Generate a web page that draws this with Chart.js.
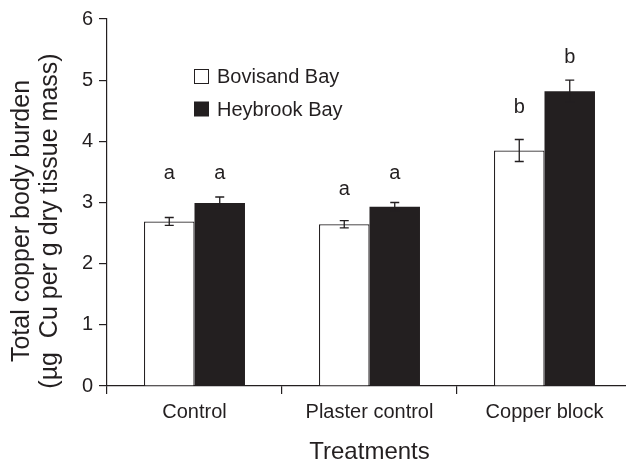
<!DOCTYPE html>
<html>
<head>
<meta charset="utf-8">
<script src="https://cdn.jsdelivr.net/npm/chart.js@4.4.0/dist/chart.umd.min.js"></script>
<style>
  html, body { margin: 0; padding: 0; background: #fff; overflow: hidden; }
  canvas { display: block; }
</style>
</head>
<body>
<canvas id="burden" width="640" height="464"></canvas>
<script>
const treatments = ['Control', 'Plaster control', 'Copper block']
const bovisand = [2.69, 2.645, 3.85]
const heybrook = [2.99, 2.93, 4.82]
const bovisandSE = [0.065, 0.06, 0.18]
const heybrookSE = [0.10, 0.07, 0.18]
const bovisandGroups = ['a', 'a', 'b']
const heybrookGroups = ['a', 'a', 'b']
const yTicks = [0, 1, 2, 3, 4, 5, 6]

// heights (in ug/g) where the significance letters sit
const bovisandLetterAt = [3.38, 3.12, 4.47]
const heybrookLetterAt = [3.38, 3.39, 5.28]

const ink = '#231f20'
const family = '"Liberation Sans", Arial, Helvetica, sans-serif'

const errorBars = {
    id: 'errorBars',
    afterDatasetsDraw(chart) {
        const ctx = chart.ctx
        const y = chart.scales.y
        chart.data.datasets.forEach((ds, i) => {
            chart.getDatasetMeta(i).data.forEach((bar, j) => {
                const v = ds.data[j]
                const e = ds.errors[j]
                const top = y.getPixelForValue(v + e)
                const bot = y.getPixelForValue(v - e)
                ctx.save()
                ctx.strokeStyle = ink
                ctx.lineWidth = 1.3
                ctx.beginPath()
                ctx.moveTo(bar.x, top); ctx.lineTo(bar.x, bot)
                ctx.moveTo(bar.x - 4.5, top); ctx.lineTo(bar.x + 4.5, top)
                ctx.moveTo(bar.x - 4.5, bot); ctx.lineTo(bar.x + 4.5, bot)
                ctx.stroke()

                ctx.fillStyle = ink
                ctx.font = '20px ' + family
                ctx.textAlign = 'center'
                ctx.textBaseline = 'alphabetic'
                ctx.fillText(ds.groups[j], bar.x, y.getPixelForValue(ds.letterAt[j]))
                ctx.restore()
            })
        })
    }
}

// legend box in the upper left of the plot
const insetLegend = {
    id: 'insetLegend',
    afterDraw(chart) {
        const ctx = chart.ctx
        const { left, top } = chart.chartArea
        ctx.save()
        ctx.font = '20px ' + family
        ctx.textBaseline = 'middle'
        ctx.textAlign = 'left'
        chart.data.datasets.forEach((ds, i) => {
            const bx = left + 87.5
            const by = top + 50.5 + i * 32.5
            ctx.fillStyle = ds.backgroundColor
            ctx.fillRect(bx, by, 14, 14)
            ctx.strokeStyle = ink
            ctx.lineWidth = 1
            ctx.strokeRect(bx, by, 14, 14)
            ctx.fillStyle = ink
            ctx.fillText(ds.label, left + 110, by + 8)
        })
        ctx.restore()
    }
}

// two-line rotated y axis title
const yTitle = {
    id: 'yTitle',
    afterDraw(chart) {
        const ctx = chart.ctx
        const lines = ['Total copper body burden', '(\u00b5g  Cu per g dry tissue mass)']
        ctx.save()
        ctx.fillStyle = ink
        ctx.font = '25px ' + family
        ctx.textAlign = 'center'
        ctx.textBaseline = 'middle'
        lines.forEach((t, i) => {
            ctx.save()
            ctx.translate(22 + i * 28, 221)
            ctx.rotate(-Math.PI / 2)
            ctx.fillText(t, 0, 0)
            ctx.restore()
        })
        ctx.restore()
    }
}

new Chart(document.getElementById('burden'), {
    type: 'bar',
    data: {
        labels: treatments,
        datasets: [
            {
                label: 'Bovisand Bay',
                data: bovisand,
                errors: bovisandSE,
                groups: bovisandGroups,
                letterAt: bovisandLetterAt,
                backgroundColor: '#ffffff',
                borderColor: ink,
                borderWidth: 1.2,
                categoryPercentage: 0.577,
                barPercentage: 1
            },
            {
                label: 'Heybrook Bay',
                data: heybrook,
                errors: heybrookSE,
                groups: heybrookGroups,
                letterAt: heybrookLetterAt,
                backgroundColor: ink,
                borderWidth: 0,
                categoryPercentage: 0.577,
                barPercentage: 1
            }
        ]
    },
    options: {
        responsive: false,
        animation: false,
        layout: { padding: { left: 0, right: 8, top: 19, bottom: 0 } },
        plugins: {
            legend: { display: false },
            tooltip: { enabled: false }
        },
        scales: {
            x: {
                offset: true,
                grid: { offset: true, drawOnChartArea: false, tickLength: 8, color: ink, lineWidth: 1.2 },
                border: { color: ink, width: 1.2 },
                ticks: { color: ink, padding: 6, font: { family: family, size: 20 } },
                title: {
                    display: true,
                    text: 'Treatments',
                    color: ink,
                    font: { family: family, size: 24, lineHeight: 1 },
                    padding: { top: 0, bottom: 0 }
                },
                afterFit(scale) { scale.height = 78 }
            },
            y: {
                min: 0,
                max: 6,
                afterBuildTicks(scale) { scale.ticks = yTicks.map(v => ({ value: v })) },
                grid: { drawOnChartArea: false, tickLength: 8, color: ink, lineWidth: 1.2 },
                border: { color: ink, width: 1.2 },
                ticks: { color: ink, padding: 6, font: { family: family, size: 20 } },
                afterFit(scale) { scale.width = 107 }
            }
        }
    },
    plugins: [errorBars, insetLegend, yTitle]
})
</script>
</body>
</html>
